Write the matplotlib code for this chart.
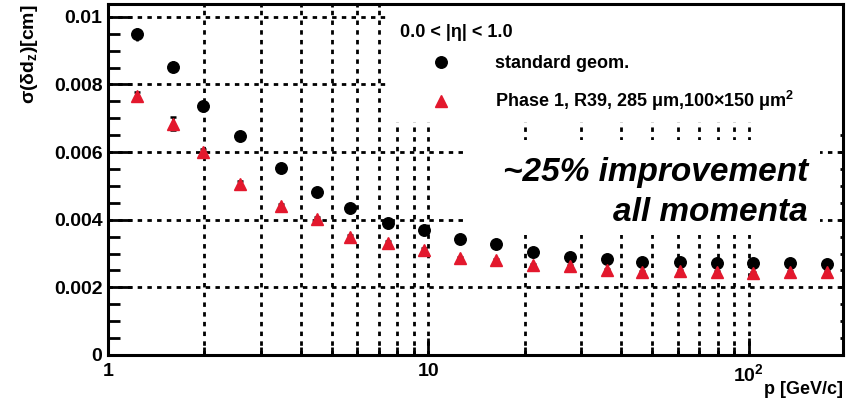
import numpy as np
import matplotlib
matplotlib.use("Agg")
import matplotlib.pyplot as plt
from matplotlib.patches import Rectangle
from matplotlib.ticker import FixedLocator, FixedFormatter, MultipleLocator, NullFormatter

plt.rcParams['font.family'] = ['Liberation Sans', 'DejaVu Sans']
plt.rcParams['font.weight'] = 'bold'
plt.rcParams['mathtext.fontset'] = 'custom'
plt.rcParams['mathtext.rm'] = 'Liberation Sans:bold'
plt.rcParams['mathtext.it'] = 'Liberation Sans:bold'
plt.rcParams['mathtext.bf'] = 'Liberation Sans:bold'
plt.rcParams['mathtext.default'] = 'rm'

# momentum bins [GeV/c]
p = [1.23, 1.60, 1.98, 2.59, 3.46, 4.49, 5.71, 7.46, 9.72, 12.6,
     16.3, 21.2, 27.6, 36.2, 46.5, 61.0, 79.4, 103.4, 134.4, 175.0]
# sigma(delta d_z) [cm]
standard = [0.00949, 0.00853, 0.00737, 0.00649, 0.00554, 0.00483, 0.00436, 0.00391, 0.00370, 0.00342,
            0.00328, 0.00304, 0.00289, 0.00283, 0.00276, 0.00274, 0.00273, 0.00271, 0.00271, 0.00269]
standard_err = [0.00019, 0.00016, 0.00010, 0.00008, 0.00006, 0.00005, 0.00005, 0.00004, 0.00004, 0.00003,
                0.00003, 0.00003, 0.00003, 0.00003, 0.00003, 0.00003, 0.00003, 0.00003, 0.00003, 0.00003]
phase1 = [0.00766, 0.00684, 0.00600, 0.00506, 0.00441, 0.00402, 0.00350, 0.00332, 0.00311, 0.00286,
          0.00281, 0.00266, 0.00263, 0.00251, 0.00246, 0.00249, 0.00246, 0.00243, 0.00246, 0.00246]
phase1_err = [0.00012, 0.00020, 0.00010, 0.00008, 0.00006, 0.00005, 0.00005, 0.00004, 0.00004, 0.00003,
              0.00003, 0.00003, 0.00003, 0.00003, 0.00003, 0.00003, 0.00003, 0.00003, 0.00003, 0.00003]

red = '#e3182d'

fig = plt.figure(figsize=(8.57, 3.99), dpi=100)
ax = fig.add_axes([0.126, 0.1103, 0.8577, 0.8797])

ax.set_xscale('log')
ax.set_xlim(1, 197)
ax.set_ylim(0, 0.01038)

# dashed grid
ax.set_axisbelow(True)
ax.grid(True, which='both', axis='x', color='black', lw=2, ls=(0, (1.6, 1.9)))
ax.grid(True, which='major', axis='y', color='black', lw=2, ls=(0, (1.6, 1.9)))

# white boxes behind legend and annotation
ax.add_patch(Rectangle((0.384, 0.664), 0.62, 0.34, transform=ax.transAxes,
                       facecolor='white', edgecolor='none', zorder=1))
ax.add_patch(Rectangle((0.490, 0.342), 0.479, 0.27, transform=ax.transAxes,
                       facecolor='white', edgecolor='none', zorder=1))

ax.errorbar(p, standard, yerr=standard_err, fmt='none', ecolor='black', elinewidth=1.8,
            capsize=0, zorder=2.5)
ax.errorbar(p, phase1, yerr=phase1_err, fmt='none', ecolor='black', elinewidth=1.8,
            capsize=2, capthick=1.8, zorder=2.5)
ax.plot(p, standard, 'o', color='black', ms=8.3, zorder=3, label='standard geom.')
ax.plot(p, phase1, '^', color=red, ms=9, zorder=3,
        label=r'Phase 1, R39, 285 $\mu$m,100$\times$150 $\mu$m$^{2}$')

# ticks
ax.yaxis.set_minor_locator(MultipleLocator(0.0005))
ax.yaxis.set_major_locator(FixedLocator([0, 0.002, 0.004, 0.006, 0.008, 0.01]))
ax.yaxis.set_major_formatter(FixedFormatter(['0', '0.002', '0.004', '0.006', '0.008', '0.01']))
ax.xaxis.set_major_locator(FixedLocator([1, 10, 100]))
ax.xaxis.set_major_formatter(FixedFormatter(['1', '10', r'$10^{2}$']))
ax.xaxis.set_minor_formatter(NullFormatter())

ax.tick_params(axis='y', which='major', direction='in', length=17, width=2, labelsize=14, pad=4,
               right=True)
ax.tick_params(axis='y', which='minor', direction='in', length=8.5, width=2, right=True)
ax.tick_params(axis='x', which='major', direction='in', length=12, width=2, labelsize=14, pad=6,
               top=True)
ax.tick_params(axis='x', which='minor', direction='in', length=6, width=2, top=True)
for t in ax.yaxis.get_major_ticks():
    t.tick2line.set_markersize(3)
for t in ax.yaxis.get_minor_ticks():
    t.tick2line.set_markersize(2)
for t in ax.xaxis.get_major_ticks():
    t.tick2line.set_markersize(3)
for t in ax.xaxis.get_minor_ticks():
    t.tick2line.set_markersize(2)

for s in ax.spines.values():
    s.set_linewidth(2.2)

ax.text(1.0, -0.098, 'p [GeV/c]', transform=ax.transAxes, ha='right', va='center', fontsize=13)
fig.text(0.035, 0.99, r'$\sigma(\delta d_{z})$[cm]', rotation=90, ha='center', va='top', fontsize=14)

ax.text(0.397, 0.920, '0.0 < |η| < 1.0', transform=ax.transAxes, ha='left', va='center', fontsize=13)
leg = ax.legend(loc='upper left', bbox_to_anchor=(0.397, 0.855), frameon=False, fontsize=13,
                borderpad=0, borderaxespad=0, handlelength=4.6, handletextpad=0.7, labelspacing=0.95)

ax.text(0.9524, 0.521, '~25% improvement', transform=ax.transAxes, ha='right', va='center',
        fontsize=24, fontstyle='italic', fontweight='bold')
ax.text(0.9524, 0.407, 'all momenta', transform=ax.transAxes, ha='right', va='center',
        fontsize=24, fontstyle='italic', fontweight='bold')

plt.savefig('out.png', dpi=100)
